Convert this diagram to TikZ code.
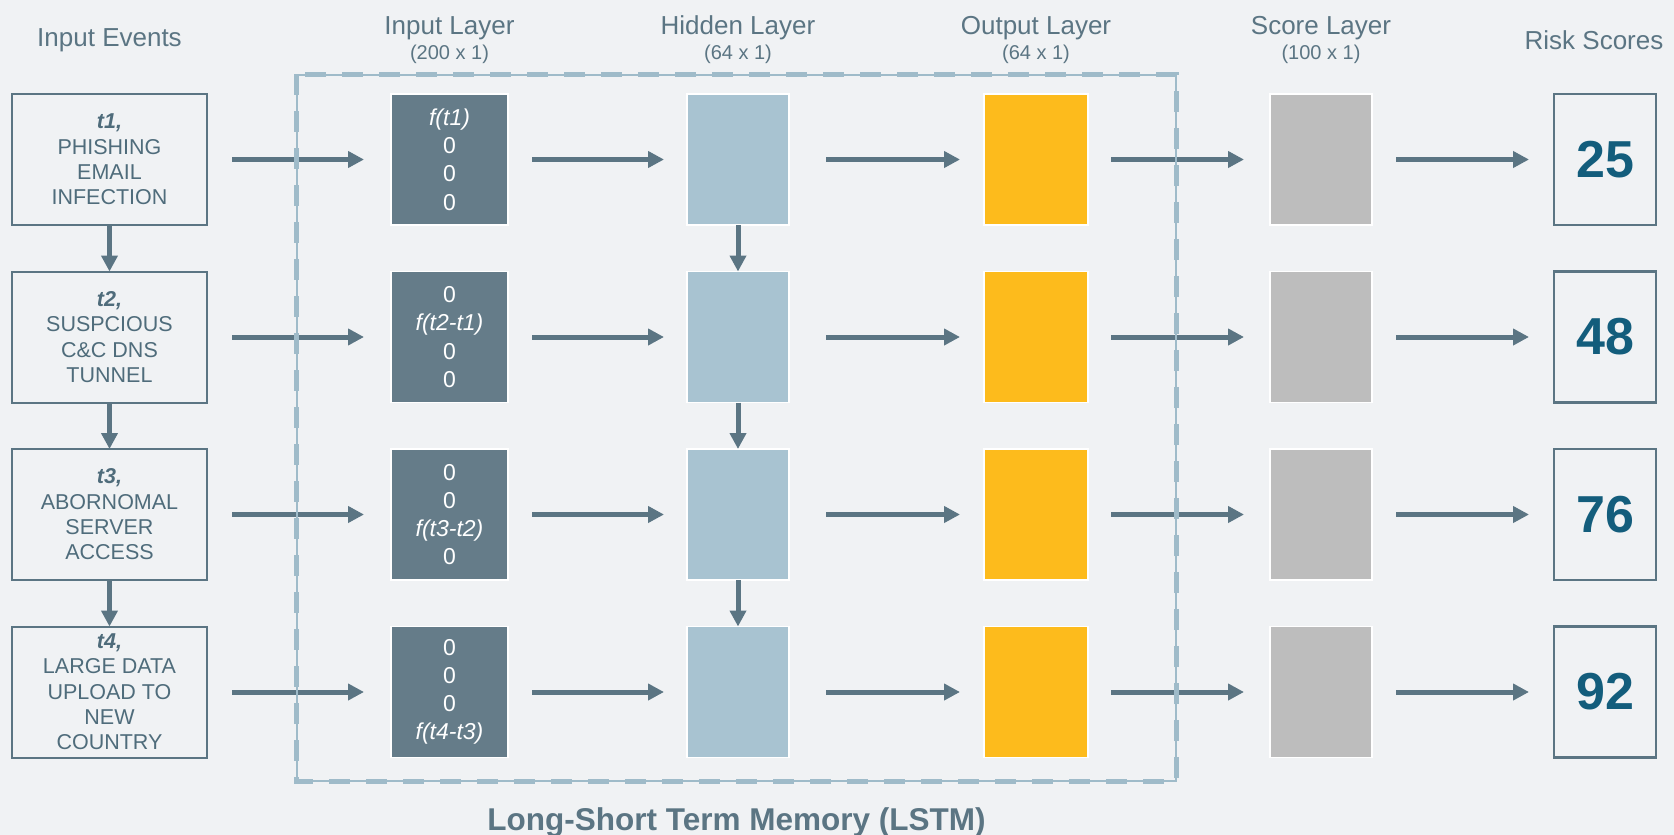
\documentclass[tikz,border=0pt]{standalone}
\usepackage{fontspec}
\setmainfont{Liberation Sans}
\usetikzlibrary{arrows.meta,positioning,fit}

\definecolor{slate}{HTML}{5B7583}
\definecolor{evtxt}{HTML}{4F6C7B}
\definecolor{inblue}{HTML}{657C89}
\definecolor{hidblue}{HTML}{A8C3D1}
\definecolor{outgold}{HTML}{FDBB1C}
\definecolor{scgray}{HTML}{BDBDBD}
\definecolor{riskblue}{HTML}{135D7C}
\definecolor{dashblue}{HTML}{9FBBC9}
\definecolor{bgpaper}{HTML}{F0F2F4}

\newcommand{\fsz}[2]{\fontsize{#1}{#2}\selectfont}

\begin{document}
\begin{tikzpicture}[x=1pt,y=-1pt,
  >={Triangle[length=16pt,width=16pt]},
  evt/.style={draw=slate,line width=2pt,text=evtxt,align=center,inner sep=0pt,outer sep=0pt,minimum width=195pt,minimum height=131pt,font=\fsz{21.5}{25.3}},
  lay/.style={draw=white,line width=1.2pt,inner sep=0pt,outer sep=0pt,minimum width=102pt,minimum height=131pt},
  inl/.style={lay,fill=inblue,minimum width=117pt,text=white,align=center,font=\fsz{23}{28.2}},
  hid/.style={lay,fill=hidblue},
  outl/.style={lay,fill=outgold,minimum width=104pt},
  scr/.style={lay,fill=scgray},
  risk/.style={draw=slate,line width=2.5pt,text=riskblue,inner sep=0pt,outer sep=0pt,minimum width=102pt,minimum height=131pt,font=\fsz{52}{58}\bfseries},
  ar/.style={->,line width=5pt,draw=slate},
  hdr/.style={text=slate,font=\fsz{26}{30}},
  sub/.style={text=slate,font=\fsz{20}{24}},
  lstmbox/.style={draw=dashblue,line width=1.2pt,inner sep=0pt},
  lstmdash/.style={draw=dashblue,line width=5pt,dash pattern=on 21pt off 16pt}
]
% canvas
\fill[bgpaper] (0,0) rectangle (1674,835);
\useasboundingbox (0,0) rectangle (1674,835);

% input events
\node[evt] (e1) at (109.5,159.5) {\textbf{\textit{t1,}}\\PHISHING\\EMAIL\\INFECTION};
\node[evt,below=46.5pt of e1] (e2) {\textbf{\textit{t2,}}\\SUSPCIOUS\\C\&C DNS\\TUNNEL};
\node[evt,below=46.5pt of e2] (e3) {\textbf{\textit{t3,}}\\ABORNOMAL\\SERVER\\ACCESS};
\node[evt,below=46.5pt of e3] (e4) {\textbf{\textit{t4,}}\\LARGE DATA\\UPLOAD TO\\NEW\\COUNTRY};

% input layer
\node[inl,right=184pt of e1] (i1) {\textit{f(t1)}\\0\\0\\0};
\node[inl,right=184pt of e2] (i2) {0\\\textit{f(t2-t1)}\\0\\0};
\node[inl,right=184pt of e3] (i3) {0\\0\\\textit{f(t3-t2)}\\0};
\node[inl,right=184pt of e4] (i4) {0\\0\\0\\\textit{f(t4-t3)}};

% hidden layer
\node[hid,right=179pt of i1] (h1) {};
\node[hid,right=179pt of i2] (h2) {};
\node[hid,right=179pt of i3] (h3) {};
\node[hid,right=179pt of i4] (h4) {};

% output layer
\node[outl,right=195pt of h1] (o1) {};
\node[outl,right=195pt of h2] (o2) {};
\node[outl,right=195pt of h3] (o3) {};
\node[outl,right=195pt of h4] (o4) {};

% score layer
\node[scr,right=182pt of o1] (s1) {};
\node[scr,right=182pt of o2] (s2) {};
\node[scr,right=182pt of o3] (s3) {};
\node[scr,right=182pt of o4] (s4) {};

% risk scores
\node[risk,right=182pt of s1] (k1) {25};
\node[risk,right=182pt of s2] (k2) {48};
\node[risk,right=182pt of s3] (k3) {76};
\node[risk,right=182pt of s4] (k4) {92};

% headers
\node[hdr] (hev) at (e1.north |- 0,40) {Input Events};
\node[hdr] (hin) at (i1.north |- 0,28) {Input Layer};
\node[sub] (sin) at (i1.north |- 0,54) {(200 x 1)};
\node[hdr] (hhid) at (h1.north |- 0,28) {Hidden Layer};
\node[sub] (shid) at (h1.north |- 0,54) {(64 x 1)};
\node[hdr] (hout) at (o1.north |- 0,28) {Output Layer};
\node[sub] (sout) at (o1.north |- 0,54) {(64 x 1)};
\node[hdr] (hscr) at (s1.north |- 0,28) {Score Layer};
\node[sub] (sscr) at (s1.north |- 0,54) {(100 x 1)};
\node[hdr] (hrisk) at (1594,40) {Risk Scores};

% event chain
\draw[ar] (e1) -- (e2);
\draw[ar] (e2) -- (e3);
\draw[ar] (e3) -- (e4);
% hidden state chain
\draw[ar] (h1) -- (h2);
\draw[ar] (h2) -- (h3);
\draw[ar] (h3) -- (h4);

% events -> input layer
\draw[ar,shorten <=25pt,shorten >=27pt] (e1) -- (i1);
\draw[ar,shorten <=25pt,shorten >=27pt] (e2) -- (i2);
\draw[ar,shorten <=25pt,shorten >=27pt] (e3) -- (i3);
\draw[ar,shorten <=25pt,shorten >=27pt] (e4) -- (i4);
% input -> hidden
\draw[ar,shorten <=24pt,shorten >=23pt] (i1) -- (h1);
\draw[ar,shorten <=24pt,shorten >=23pt] (i2) -- (h2);
\draw[ar,shorten <=24pt,shorten >=23pt] (i3) -- (h3);
\draw[ar,shorten <=24pt,shorten >=23pt] (i4) -- (h4);
% hidden -> output
\draw[ar,shorten <=37pt,shorten >=24pt] (h1) -- (o1);
\draw[ar,shorten <=37pt,shorten >=24pt] (h2) -- (o2);
\draw[ar,shorten <=37pt,shorten >=24pt] (h3) -- (o3);
\draw[ar,shorten <=37pt,shorten >=24pt] (h4) -- (o4);
% output -> score
\draw[ar,shorten <=23pt,shorten >=26pt] (o1) -- (s1);
\draw[ar,shorten <=23pt,shorten >=26pt] (o2) -- (s2);
\draw[ar,shorten <=23pt,shorten >=26pt] (o3) -- (s3);
\draw[ar,shorten <=23pt,shorten >=26pt] (o4) -- (s4);
% score -> risk
\draw[ar,shorten <=24pt,shorten >=25pt] (s1) -- (k1);
\draw[ar,shorten <=24pt,shorten >=25pt] (s2) -- (k2);
\draw[ar,shorten <=24pt,shorten >=25pt] (s3) -- (k3);
\draw[ar,shorten <=24pt,shorten >=25pt] (s4) -- (k4);

% LSTM frame
\node[lstmbox,fit={(297,75) (1176,781)}] (lstm) {};
\draw[lstmdash] (lstm.north west) rectangle (lstm.south east);
\node[text=slate,font=\fsz{31.5}{36}\bfseries] (lstmlbl) at (lstm.south |- 0,822) {Long-Short Term Memory (LSTM)};
\end{tikzpicture}
\end{document}
